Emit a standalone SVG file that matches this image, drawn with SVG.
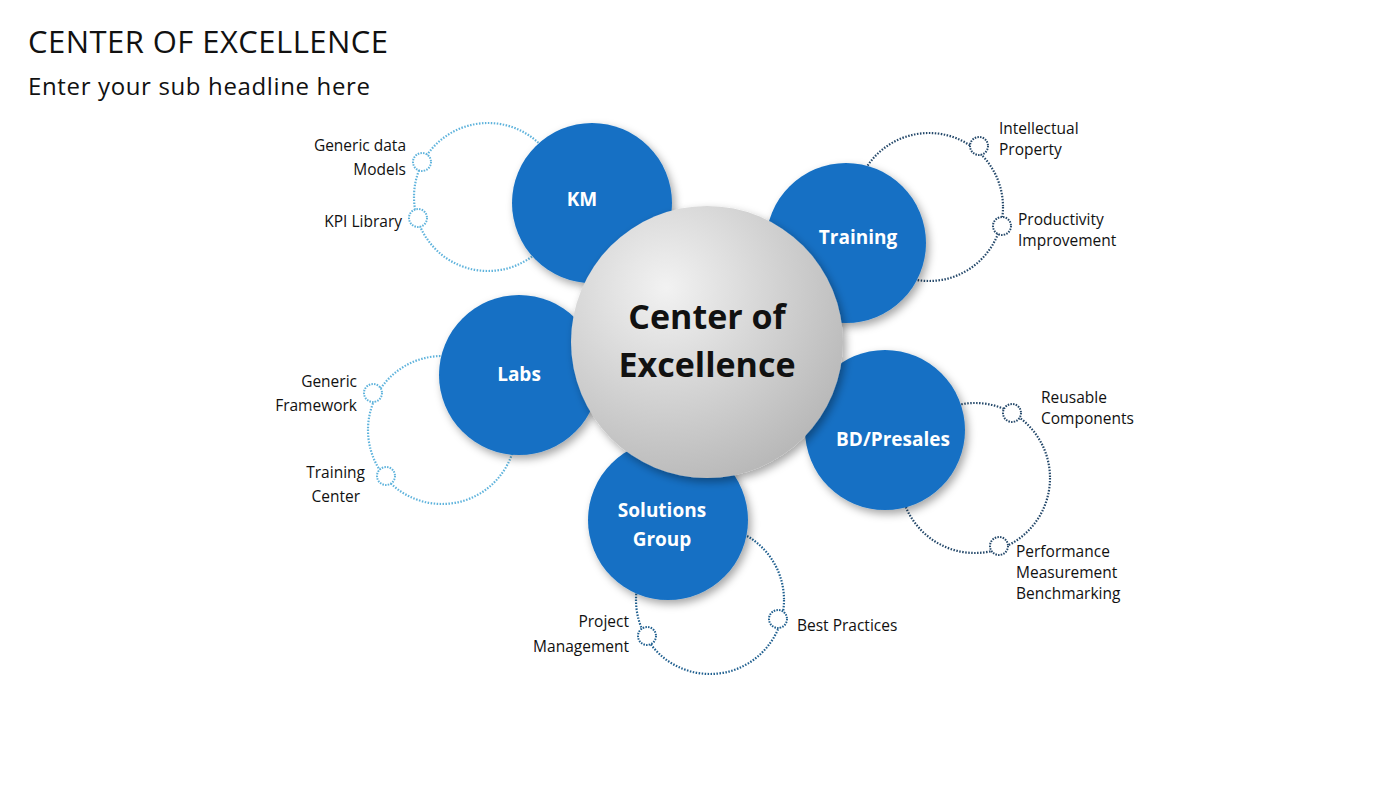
<svg xmlns="http://www.w3.org/2000/svg" width="1400" height="788" viewBox="0 0 1400 788">
<defs>
<style>
text{font-family:"Open Sans","Liberation Sans",sans-serif}
.lab{font-size:15.5px;fill:#111}
.bt{font-size:19px;font-weight:bold;fill:#fff}
.ring{fill:none;stroke-width:2.2;stroke-dasharray:1.5 1.5}
.lt{stroke:#5fb3dc}
.dk{stroke:#24486a}
.md{stroke:#1f5f8f}
.dot{fill:#fff;stroke-width:2;stroke-dasharray:1.5 1.2}
.blue{fill:#1470c4;filter:url(#sh)}
</style>
<filter id="sh" x="-20%" y="-20%" width="150%" height="150%"><feDropShadow dx="3" dy="4" stdDeviation="4" flood-color="#000" flood-opacity="0.35"/></filter>
<radialGradient id="cg" cx="0.35" cy="0.3" r="0.8"><stop offset="0" stop-color="#f2f2f2"/><stop offset="1" stop-color="#b4b4b4"/></radialGradient>
</defs>
<rect width="1400" height="788" fill="#fff"/>
<text x="28" y="53" font-size="31" fill="#111" textLength="360">CENTER OF EXCELLENCE</text>
<text x="28" y="95" font-size="24" fill="#111" textLength="342">Enter your sub headline here</text>
<g id="connectors">
<circle class="ring lt" cx="488" cy="197" r="74"/>
<circle class="ring dk" cx="929" cy="207" r="74"/>
<circle class="ring lt" cx="442" cy="430" r="74"/>
<circle class="ring dk" cx="975" cy="478" r="75"/>
<circle class="ring md" cx="710" cy="600" r="74"/>
<circle class="dot lt" cx="422" cy="162" r="9"/>
<circle class="dot lt" cx="418" cy="218" r="9"/>
<circle class="dot dk" cx="979" cy="146" r="9"/>
<circle class="dot dk" cx="1002" cy="226" r="9"/>
<circle class="dot lt" cx="373" cy="393" r="9"/>
<circle class="dot lt" cx="386" cy="476" r="9"/>
<circle class="dot dk" cx="1012" cy="413" r="9"/>
<circle class="dot dk" cx="999" cy="546" r="9"/>
<circle class="dot md" cx="647" cy="636" r="9"/>
<circle class="dot md" cx="778" cy="619" r="9"/>
</g>
<g id="labels" class="lab">
<text x="406" y="151" text-anchor="end">Generic data</text>
<text x="406" y="175" text-anchor="end">Models</text>
<text x="402" y="227" text-anchor="end">KPI Library</text>
<text x="999" y="134">Intellectual</text>
<text x="999" y="155">Property</text>
<text x="1018" y="225">Productivity</text>
<text x="1018" y="246">Improvement</text>
<text x="357" y="387" text-anchor="end">Generic</text>
<text x="357" y="411" text-anchor="end">Framework</text>
<text x="365" y="478" text-anchor="end">Training</text>
<text x="360" y="502" text-anchor="end">Center</text>
<text x="1041" y="403">Reusable</text>
<text x="1041" y="424">Components</text>
<text x="1016" y="557">Performance</text>
<text x="1016" y="578">Measurement</text>
<text x="1016" y="599">Benchmarking</text>
<text x="629" y="627" text-anchor="end">Project</text>
<text x="629" y="652" text-anchor="end">Management</text>
<text x="797" y="631">Best Practices</text>
</g>
<g id="km"><circle class="blue" cx="592" cy="203" r="80"/><text class="bt" x="582" y="206" text-anchor="middle">KM</text></g>
<g id="training"><circle class="blue" cx="846" cy="243" r="80"/><text class="bt" x="858" y="244" text-anchor="middle">Training</text></g>
<g id="labs"><circle class="blue" cx="519" cy="375" r="80"/><text class="bt" x="519" y="381" text-anchor="middle">Labs</text></g>
<g id="bd"><circle class="blue" cx="885" cy="430" r="80"/><text class="bt" x="893" y="446" text-anchor="middle">BD/Presales</text></g>
<g id="solutions"><circle class="blue" cx="668" cy="520" r="80"/><text class="bt" x="662" y="517" text-anchor="middle">Solutions</text><text class="bt" x="662" y="546" text-anchor="middle">Group</text></g>
<g id="center"><circle cx="707" cy="342" r="136" fill="url(#cg)" filter="url(#sh)"/><text x="707" y="329" text-anchor="middle" font-size="34" font-weight="bold" fill="#111">Center of</text><text x="707" y="377" text-anchor="middle" font-size="34" font-weight="bold" fill="#111">Excellence</text></g>
</svg>
